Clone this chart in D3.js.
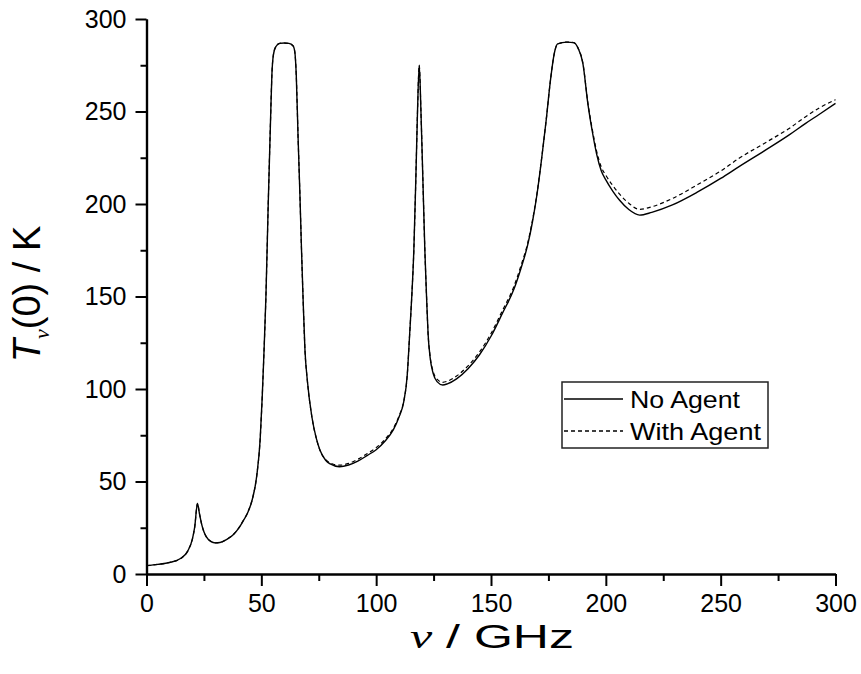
<!DOCTYPE html>
<html>
<head>
<meta charset="utf-8">
<script src="https://cdn.jsdelivr.net/npm/d3@7"></script>
<style>
  html, body { margin: 0; padding: 0; background: #fff; }
  svg { display: block; }
  text { font-family: "Liberation Sans", Arial, sans-serif; fill: #000; }
</style>
</head>
<body>
<svg id="chart" width="861" height="674"></svg>
<script>
// Brightness temperature spectrum, frequency in GHz
const freq = [
  0, 5, 10, 15, 18, 20, 21, 22.2, 23, 24, 25, 26, 28, 30, 32, 35, 38, 40, 42, 44, 46, 48, 49.5, 50.4, 51, 52, 53, 54, 54.6, 55.3, 56.3, 58, 60, 62, 63.8, 64.6, 65.2, 66, 66.8, 67.5, 68.2, 69, 70, 72, 74, 75.5, 78, 80, 84, 88, 92, 96, 100, 104, 107.5, 110, 112, 113.5, 114.6, 115.5, 116.4, 117.3, 118, 118.75, 119.5, 120.3, 121.2, 122, 122.6, 123.5, 124.8, 126.5, 129, 131, 135, 140, 145, 150, 155, 160, 163, 166, 168, 170, 172, 174, 176, 177.5, 179, 183, 186, 188, 190, 192.2, 194, 196, 198, 200, 203, 206, 210, 214.7, 220, 229, 240, 250, 258, 270, 280, 287, 293, 300
];
const noAgent = [
  4.5, 5.2, 6.2, 8.5, 12.5, 19, 25.5, 38.2, 33, 27, 22.8, 20.2, 17.6, 16.8, 17, 18.7, 21.5, 24.5, 28.5, 33, 40, 53, 73, 96, 115, 150, 200, 245, 270, 281, 285, 286.8, 287, 286.8, 285.5, 282, 270, 236, 205, 175, 148, 121, 105, 85, 73, 67, 61.5, 59.5, 58, 58.9, 61, 64, 67.2, 72, 78, 85, 93, 107, 130, 150, 175, 215, 250, 275, 250, 215, 175, 148, 130, 117, 108.5, 104, 102.2, 102.8, 105.5, 111, 118.5, 128.5, 141, 154, 165, 178, 190, 205, 224, 245, 268, 281, 286.5, 287.5, 287.2, 284, 276, 254, 240, 227, 218, 213, 207, 202, 197, 194, 195.5, 199.5, 206.5, 213.8, 220.2, 229.5, 237.5, 243.6, 248.5, 254.4
];
const withAgent = [
  4.5, 5.2, 6.2, 8.5, 12.5, 19, 25.5, 38.2, 33, 27, 22.8, 20.2, 17.6, 16.8, 17, 18.8, 21.6, 24.6, 28.6, 33.1, 40.1, 53.1, 73, 96, 115, 150, 200, 245, 270, 281, 285, 286.8, 287, 286.8, 285.5, 282, 270, 236, 205, 175, 148, 121, 105, 85, 73, 67, 61.8, 60, 58.8, 59.8, 62, 65, 68.3, 73, 78.8, 85.6, 93.4, 107, 130, 150, 175, 215, 250, 275, 250, 215, 175, 148, 130, 117.5, 109.5, 105.3, 103.6, 104.2, 107, 112.5, 120, 130, 142.5, 155.5, 166.5, 179, 190.8, 205.5, 224.3, 245, 268, 281, 286.5, 287.5, 287.2, 284, 276.2, 254.5, 241, 228.5, 220, 215.5, 210, 205.3, 200.4, 197.1, 198.5, 203, 210.5, 217.8, 224.7, 233.5, 241, 247.2, 252, 256.4
];

const xTicks = [0, 50, 100, 150, 200, 250, 300];
const xMinor = [25, 75, 125, 175, 225, 275];
const yTicks = [0, 50, 100, 150, 200, 250, 300];
const yMinor = [25, 75, 125, 175, 225, 275];
const seriesNames = ["No Agent", "With Agent"];

const svg = d3.select("#chart");
const plotLeft = 146.5, plotRight = 835.5, plotTop = 19, plotBottom = 574;

const x = d3.scaleLinear().domain([0, 300]).range([plotLeft, plotRight]);
const y = d3.scaleLinear().domain([0, 300]).range([plotBottom, plotTop]);

// Spectra
const line = d3.line().curve(d3.curveMonotoneX);
const solidPts = freq.map((f, i) => [x(f), y(noAgent[i])]);
const dashPts = freq.map((f, i) => [x(f), y(withAgent[i])]);

svg.append("path")
  .attr("d", line(dashPts))
  .attr("fill", "none")
  .attr("stroke", "#000")
  .attr("stroke-width", 1.2)
  .attr("stroke-dasharray", "4,3");

svg.append("path")
  .attr("d", line(solidPts))
  .attr("fill", "none")
  .attr("stroke", "#000")
  .attr("stroke-width", 1.4);

// Axes
function styleAxis(g) {
  g.select(".domain").attr("stroke", "#000").attr("stroke-width", 2.2);
  g.selectAll(".tick line").attr("stroke", "#000").attr("stroke-width", 2);
  g.selectAll(".tick text")
    .attr("font-family", "'Liberation Sans', Arial, sans-serif")
    .attr("font-size", 25)
    .attr("fill", "#000");
}

const gx = svg.append("g").attr("transform", `translate(0,${plotBottom})`)
  .call(d3.axisBottom(x).tickValues(xTicks).tickSize(12).tickSizeOuter(0).tickPadding(8).tickFormat(d3.format("d")));
styleAxis(gx);
const gxm = svg.append("g").attr("transform", `translate(0,${plotBottom})`)
  .call(d3.axisBottom(x).tickValues(xMinor).tickSize(7).tickSizeOuter(0).tickFormat(""));
styleAxis(gxm);

const gy = svg.append("g").attr("transform", `translate(${plotLeft},0)`)
  .call(d3.axisLeft(y).tickValues(yTicks).tickSize(11).tickSizeOuter(0).tickPadding(9).tickFormat(d3.format("d")));
styleAxis(gy);
const gym = svg.append("g").attr("transform", `translate(${plotLeft},0)`)
  .call(d3.axisLeft(y).tickValues(yMinor).tickSize(6).tickSizeOuter(0).tickFormat(""));
styleAxis(gym);

// Axis titles
const xt = svg.append("text")
  .attr("x", 492).attr("y", 648)
  .attr("text-anchor", "middle")
  .attr("font-size", 34)
  .attr("textLength", 164).attr("lengthAdjust", "spacingAndGlyphs");
xt.append("tspan").attr("font-family", "'Liberation Serif', serif").attr("font-style", "italic").text("ν");
xt.append("tspan").text(" / GHz");

const yt = svg.append("text")
  .attr("transform", "translate(40,294) rotate(-90)")
  .attr("text-anchor", "middle")
  .attr("font-size", 38);
yt.append("tspan").attr("font-style", "italic").text("T");
yt.append("tspan").attr("font-family", "'Liberation Serif', serif").attr("font-style", "italic")
  .attr("font-size", 22).attr("dy", 9).text("ν");
yt.append("tspan").attr("dy", -9).text("(0) / K");

// Legend
const lg = svg.append("g");
lg.append("rect")
  .attr("x", 562).attr("y", 382).attr("width", 206).attr("height", 66)
  .attr("fill", "#fff").attr("stroke", "#222").attr("stroke-width", 1.5);
const legendRows = [
  { name: seriesNames[0], dash: null, y: 399, len: 110 },
  { name: seriesNames[1], dash: "4,3", y: 431, len: 131 }
];
legendRows.forEach(r => {
  lg.append("line")
    .attr("x1", 564).attr("x2", 623).attr("y1", r.y).attr("y2", r.y)
    .attr("stroke", "#000").attr("stroke-width", 1.3)
    .attr("stroke-dasharray", r.dash);
  lg.append("text")
    .attr("x", 630).attr("y", r.y + 8.5)
    .attr("font-size", 24)
    .attr("textLength", r.len).attr("lengthAdjust", "spacingAndGlyphs")
    .text(r.name);
});
</script>
</body>
</html>
